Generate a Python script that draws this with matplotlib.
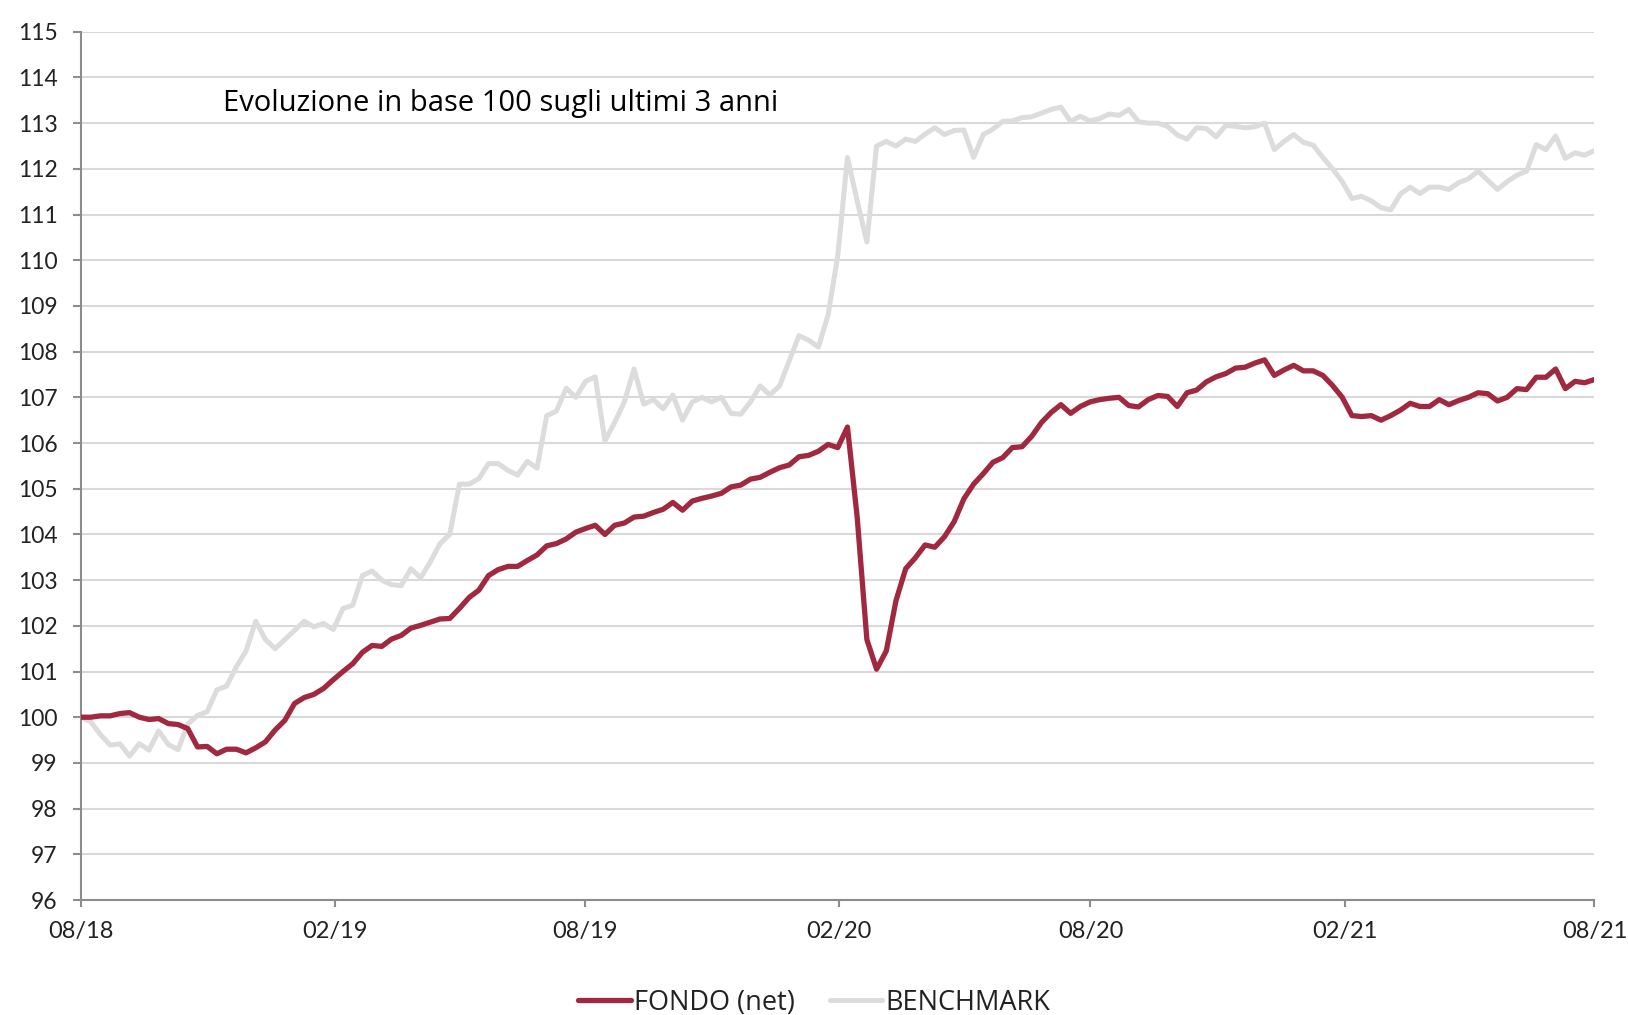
import matplotlib
matplotlib.use("Agg")
import matplotlib.pyplot as plt
import matplotlib.dates as mdates
import pandas as pd

# ==============
# 数据 (weekly readings, base 100)
# ==============
start_date = "2018-08-01"
end_date = "2021-08-01"

fondo = [
    100.0, 100.0, 100.03, 100.03, 100.08, 100.1, 100.0, 99.95, 99.97, 99.86,
    99.84, 99.75, 99.35, 99.36, 99.2, 99.3, 99.3, 99.22, 99.33, 99.46,
    99.72, 99.93, 100.3, 100.43, 100.5, 100.63, 100.82,
    101.0, 101.17, 101.42, 101.57, 101.55, 101.71, 101.79, 101.95, 102.01, 102.08,
    102.15, 102.16, 102.38, 102.62, 102.78, 103.1, 103.23, 103.3, 103.3, 103.43,
    103.55, 103.75, 103.8, 103.9, 104.05, 104.13,
    104.2, 104.0, 104.2, 104.25, 104.38, 104.4, 104.48, 104.55, 104.7, 104.53,
    104.73, 104.79, 104.84, 104.9, 105.04, 105.08, 105.21, 105.25, 105.36, 105.46,
    105.52, 105.7, 105.73, 105.82, 105.97, 105.9, 106.35,
    104.38, 101.7, 101.05, 101.45, 102.55, 103.25, 103.49, 103.77, 103.72, 103.95,
    104.28, 104.78, 105.1, 105.33, 105.58, 105.68, 105.9, 105.92, 106.15, 106.45,
    106.67, 106.84, 106.65, 106.8, 106.9, 106.95,
    106.98, 107.0, 106.82, 106.79, 106.95, 107.04, 107.02, 106.8, 107.1, 107.16,
    107.34, 107.45, 107.52, 107.64, 107.66, 107.75, 107.82, 107.48, 107.6, 107.7,
    107.58, 107.58, 107.48, 107.26, 107.0,
    106.6, 106.58, 106.6, 106.5, 106.6, 106.72, 106.87, 106.8, 106.8, 106.95,
    106.84, 106.93, 107.0, 107.1, 107.08, 106.92, 107.0, 107.19, 107.17, 107.44,
    107.44, 107.62, 107.19, 107.35, 107.32, 107.39,
]

benchmark = [
    100.0, 99.9, 99.62, 99.39, 99.42, 99.15, 99.42, 99.28, 99.7, 99.4,
    99.29, 99.85, 100.04, 100.12, 100.6, 100.68, 101.1, 101.45, 102.1, 101.7,
    101.5, 101.7, 101.9, 102.1, 101.98, 102.05, 101.92,
    102.38, 102.45, 103.1, 103.2, 103.0, 102.9, 102.88, 103.25, 103.05, 103.4,
    103.8, 104.0, 105.1, 105.1, 105.22, 105.55, 105.55, 105.4, 105.3, 105.6,
    105.45, 106.6, 106.7, 107.2, 107.0, 107.35,
    107.45, 106.05, 106.45, 106.9, 107.62, 106.85, 106.95, 106.75, 107.05, 106.5,
    106.9, 107.0, 106.9, 107.0, 106.65, 106.63, 106.9, 107.25, 107.05, 107.25,
    107.8, 108.35, 108.25, 108.1, 108.8, 110.1, 112.25,
    111.3, 110.4, 112.5, 112.6, 112.5, 112.65, 112.6, 112.76, 112.9, 112.75,
    112.84, 112.85, 112.25, 112.75, 112.87, 113.04, 113.05, 113.12, 113.14, 113.22,
    113.3, 113.35, 113.04, 113.15, 113.05, 113.1,
    113.2, 113.17, 113.3, 113.03, 113.0, 113.0, 112.93, 112.74, 112.65, 112.9,
    112.88, 112.7, 112.95, 112.93, 112.9, 112.92, 113.0, 112.42, 112.6, 112.75,
    112.58, 112.52, 112.25, 112.0, 111.72,
    111.35, 111.4, 111.3, 111.15, 111.1, 111.45, 111.6, 111.46, 111.6, 111.6,
    111.55, 111.7, 111.78, 111.95, 111.75, 111.55, 111.72, 111.86, 111.95, 112.53,
    112.42, 112.72, 112.23, 112.35, 112.3, 112.4,
]

dates = pd.date_range(start_date, end_date, periods=len(fondo))
tick_dates = pd.date_range(start_date, end_date, freq="6MS")
y_ticks = list(range(96, 116))

series_labels = ["FONDO (net)", "BENCHMARK"]
title_text = "Evoluzione in base 100 sugli ultimi 3 anni"

# ==============
# 样式
# ==============
plt.rcParams["font.family"] = ["Lato", "DejaVu Sans"]
red = "#A0283F"
grey_line = "#DCDCDC"
axis_grey = "#8C8C8C"
text_col = "#222222"

fig = plt.figure(figsize=(16.28, 10.15), dpi=100)
ax = fig.add_axes([0.0498, 0.1133, 0.9296, 0.8554])

ax.plot(dates, fondo, color=red, lw=3.8, label=series_labels[0],
        solid_joinstyle="round", solid_capstyle="round", zorder=3)
ax.plot(dates, benchmark, color=grey_line, lw=3.6, label=series_labels[1],
        solid_joinstyle="round", solid_capstyle="round", zorder=2)

ax.set_ylim(96, 115)
ax.set_yticks(y_ticks)
ax.set_xlim(dates[0], dates[-1])
ax.set_xticks(tick_dates)
ax.xaxis.set_major_formatter(mdates.DateFormatter("%m/%y"))

ax.grid(axis="y", color="#D9D9D9", lw=1.5, zorder=0)
ax.set_axisbelow(True)
for side in ["top", "right"]:
    ax.spines[side].set_visible(False)
for side in ["left", "bottom"]:
    ax.spines[side].set_color(axis_grey)
    ax.spines[side].set_linewidth(1.5)

ax.tick_params(axis="y", length=6, width=1.5, color=axis_grey,
               labelsize=16.5, labelcolor=text_col, pad=11)
ax.tick_params(axis="x", length=5, width=1.5, color=axis_grey,
               labelsize=17, labelcolor=text_col, pad=10)

ax.text(0.094, 0.917, title_text, transform=ax.transAxes,
        fontsize=21, color="black", va="center", ha="left",
        family=["Open Sans", "DejaVu Sans"])

leg = fig.legend(loc="center", bbox_to_anchor=(0.5, 0.012), ncol=2,
                 frameon=False, handlelength=1.95, handletextpad=0.1,
                 columnspacing=1.3, labelcolor=text_col,
                 prop={"family": ["Open Sans", "DejaVu Sans"], "size": 19.5})

fig.savefig("out.png", dpi=100)
plt.close(fig)
